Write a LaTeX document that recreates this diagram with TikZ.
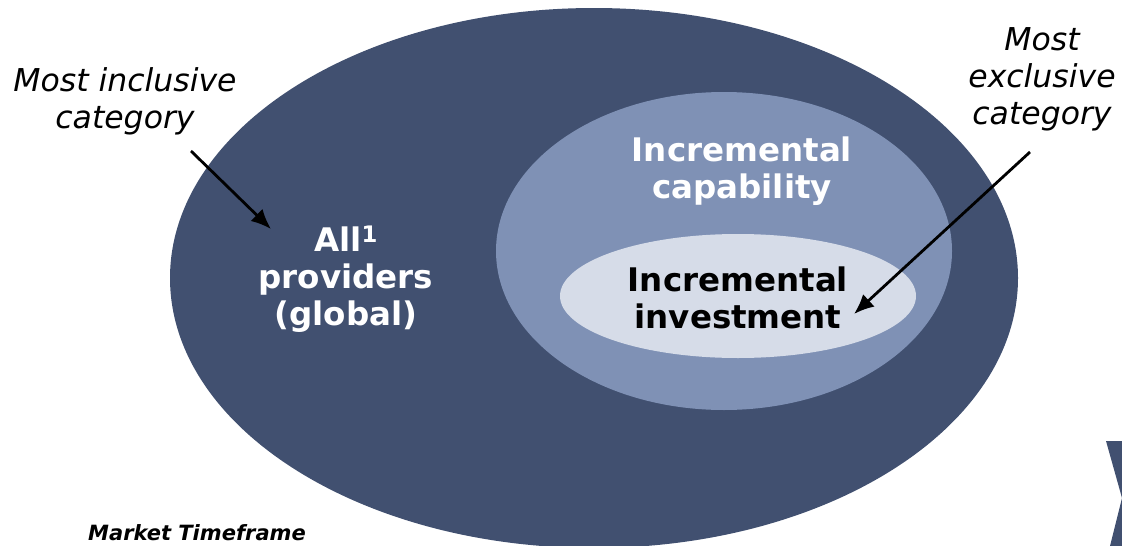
\documentclass[tikz,border=0pt]{standalone}
\usepackage{fontspec}
\setmainfont{DejaVu Sans}
\usetikzlibrary{arrows.meta,positioning}
\definecolor{outerring}{HTML}{415070}
\definecolor{middlering}{HTML}{7F91B5}
\definecolor{innerring}{HTML}{D6DCE8}
\tikzset{
  ringlabel/.style={align=center,inner sep=0pt,
                    font=\fontsize{32.5}{37}\selectfont\bfseries},
  sidenote/.style={align=center,inner sep=0pt,
                   font=\fontsize{31.5}{37}\selectfont\itshape},
  pointer/.style={-{Latex[length=20pt,width=17pt]},line width=2.8pt,color=black}
}
\begin{document}
\begin{tikzpicture}[x=1pt,y=-1pt]
  \useasboundingbox (0,0) rectangle (1122,546);
  \begin{scope}
    \clip (0,0) rectangle (1122,546);
    % nested categories
    \fill[outerring] (594,278) ellipse [x radius=424,y radius=270];
    \fill[middlering] (724,251) ellipse [x radius=228,y radius=159];
    \fill[innerring] (738,296) ellipse [x radius=178,y radius=62];
    \fill[outerring] (1106,441) -- (1122,441) -- (1122,546) -- (1110,546) -- (1122,498) -- cycle;
  \end{scope}
  \node[ringlabel,text=white] (all) at (346,279) {All\textsuperscript{1}\\providers\\(global)};
  \node[ringlabel,text=white] (capab) at (742,171) {Incremental\\capability};
  \node[ringlabel,text=black] (invest) at (738,298) {Incremental\\investment};
  \node[sidenote] (incl) at (125,101) {Most inclusive\\category};
  \node[sidenote] (excl) at (1042,79) {Most\\exclusive\\category};
  \node[font=\fontsize{21}{24}\selectfont\bfseries\itshape,anchor=west,inner sep=0pt] (market) at (88,533) {Market Timeframe};
  \coordinate (inclstart) at (191,151);
  \coordinate (inclend) at (271,229);
  \coordinate (exclstart) at (1030,152);
  \coordinate (exclend) at (854,314);
  \draw[pointer] (inclstart) -- (inclend);
  \draw[pointer] (exclstart) -- (exclend);
\end{tikzpicture}
\end{document}
